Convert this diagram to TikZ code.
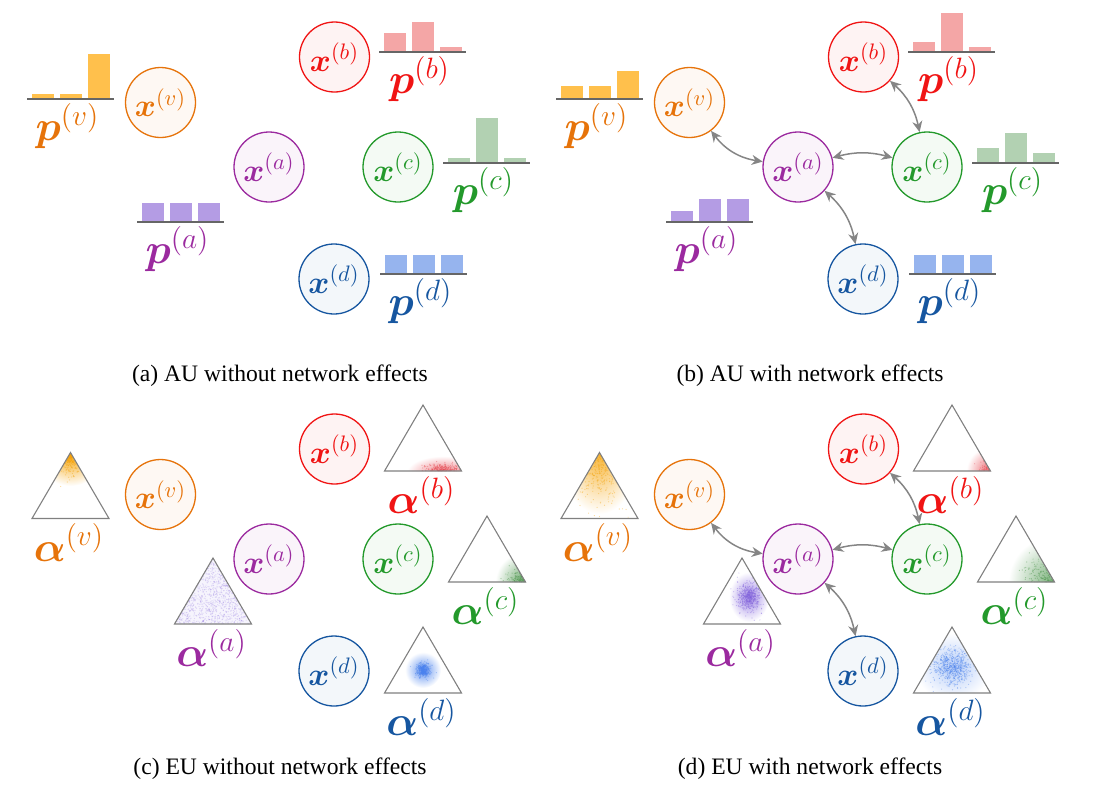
\documentclass[tikz,border=0pt]{standalone}
\usepackage{fix-cm}
\usepackage{amsmath}
\usepackage[no-math]{fontspec}
\setmainfont{Liberation Serif}
\usetikzlibrary{arrows.meta}
\definecolor{cor}{HTML}{E6730A}
\definecolor{cpu}{HTML}{9B2A9F}
\definecolor{cre}{HTML}{F01414}
\definecolor{cgr}{HTML}{23992B}
\definecolor{cbl}{HTML}{1656A0}
\definecolor{bor}{HTML}{FFC04C}
\definecolor{bpu}{HTML}{B49CE4}
\definecolor{bre}{HTML}{F4A6A6}
\definecolor{bgr}{HTML}{B2D1B2}
\definecolor{bbl}{HTML}{96B4EE}
\definecolor{sor}{HTML}{F5A000}
\definecolor{spu}{HTML}{8060DD}
\definecolor{sre}{HTML}{E63C46}
\definecolor{sgr}{HTML}{3C8C3C}
\definecolor{sbl}{HTML}{4A82EE}
\definecolor{agray}{HTML}{858585}
\tikzset{
 unode/.style={circle, draw=#1, fill=#1!5, text=#1, minimum size=35pt, inner sep=0pt, line width=0.65pt, font=\fontsize{16}{18}\selectfont},
 plab/.style={text=#1, anchor=north, inner sep=0pt, font=\fontsize{21}{24}\selectfont},
 histaxis/.style={draw=black!60, line width=0.55pt},
 simplexline/.style={draw=black!50, line width=0.55pt},
 sdot/.style={fill=#1, fill opacity=0.4},
 udot/.style={fill=#1, fill opacity=0.22},
 netarrow/.style={draw=agray, line width=0.75pt, {Stealth[length=5.5pt,width=5pt]}-{Stealth[length=5.5pt,width=5pt]}},
 capt/.style={font=\fontsize{11.8}{14}\selectfont, inner sep=0pt}
}
\newcommand\hist[6]{%
  \fill[#6] (#1+5,#2) rectangle (#1+27,#2-#3);
  \fill[#6] (#1+33,#2) rectangle (#1+55,#2-#4);
  \fill[#6] (#1+61,#2) rectangle (#1+83,#2-#5);
  \draw[histaxis] (#1,#2) -- (#1+87,#2);}
\newcommand\gscat[6]{%
  \foreach \i in {1,...,#5}{%
    \pgfmathsetmacro\rsU{max(rnd,0.0005)}%
    \pgfmathsetmacro\rsV{360*rnd}%
    \pgfmathsetmacro\rsR{sqrt(-2*ln(\rsU))}%
    \pgfmathsetmacro\rsX{#1+#3*\rsR*cos(\rsV)}%
    \pgfmathsetmacro\rsY{#2+#4*\rsR*sin(\rsV)}%
    \fill[#6] (\rsX,\rsY) circle[radius=0.6];
  }}
\newcommand\uscat[4]{%
  \foreach \i in {1,...,#3}{%
    \pgfmathsetmacro\rsA{rnd}\pgfmathsetmacro\rsB{rnd}%
    \pgfmathsetmacro\rsC{(\rsA+\rsB>1)?1-\rsA:\rsA}%
    \pgfmathsetmacro\rsD{(\rsA+\rsB>1)?1-\rsB:\rsB}%
    \pgfmathsetmacro\rsX{#1+38.5*(\rsD-\rsC)}%
    \pgfmathsetmacro\rsY{#2+66*(\rsC+\rsD)}%
    \fill[#4] (\rsX,\rsY) circle[radius=0.6];
  }}
% simplex: name, apex x, apex y
\newcommand\simplex[3]{%
  \coordinate (#1t) at (#2,#3);
  \coordinate (#1l) at (#2-38.5,#3+66);
  \coordinate (#1r) at (#2+38.5,#3+66);}
\begin{document}
\begin{tikzpicture}[x=0.5pt,y=-0.5pt]
\pgfmathsetseed{4242}
\useasboundingbox (0,0) rectangle (1102,788);

% ================= (a) =================
\hist{27}{99}{5}{5}{45}{bor}
\hist{137}{222}{19}{19}{19}{bpu}
\hist{379}{52}{19}{30}{5}{bre}
\hist{443}{163}{5}{45}{5}{bgr}
\hist{380}{274}{19}{19}{19}{bbl}
\node[plab=cor] (apv) at (67.5,103) {$\boldsymbol{p}^{(v)}$};
\node[plab=cpu] (apa) at (177.5,226) {$\boldsymbol{p}^{(a)}$};
\node[plab=cre] (apb) at (419.5,56) {$\boldsymbol{p}^{(b)}$};
\node[plab=cgr] (apc) at (483.5,167) {$\boldsymbol{p}^{(c)}$};
\node[plab=cbl] (apd) at (420.5,278) {$\boldsymbol{p}^{(d)}$};
\node[unode=cor] (av) at (160.5,102.5) {$\boldsymbol{x}^{(v)}$};
\node[unode=cpu] (aa) at (269,167) {$\boldsymbol{x}^{(a)}$};
\node[unode=cre] (ab) at (334.5,57) {$\boldsymbol{x}^{(b)}$};
\node[unode=cgr] (ac) at (398,167) {$\boldsymbol{x}^{(c)}$};
\node[unode=cbl] (ad) at (334,279) {$\boldsymbol{x}^{(d)}$};
\node[capt] (capa) at (280,376) {(a) AU without network effects};

% ================= (b) =================
\hist{556}{99}{13}{13}{28}{bor}
\hist{666}{222}{11}{23}{23}{bpu}
\hist{908}{52}{10}{39}{5}{bre}
\hist{972}{163}{15}{30}{10}{bgr}
\hist{909}{274}{19}{19}{19}{bbl}
\node[plab=cor] (bpv) at (596.5,103) {$\boldsymbol{p}^{(v)}$};
\node[plab=cpu] (bpa) at (706.5,226) {$\boldsymbol{p}^{(a)}$};
\node[plab=cre] (bpb) at (948.5,56) {$\boldsymbol{p}^{(b)}$};
\node[plab=cgr] (bpc) at (1012.5,167) {$\boldsymbol{p}^{(c)}$};
\node[plab=cbl] (bpd) at (949.5,278) {$\boldsymbol{p}^{(d)}$};
\node[unode=cor] (bv) at (689.5,102.5) {$\boldsymbol{x}^{(v)}$};
\node[unode=cpu] (ba) at (798,167) {$\boldsymbol{x}^{(a)}$};
\node[unode=cre] (bb) at (863.5,57) {$\boldsymbol{x}^{(b)}$};
\node[unode=cgr] (bc) at (927,167) {$\boldsymbol{x}^{(c)}$};
\node[unode=cbl] (bd) at (863,279) {$\boldsymbol{x}^{(d)}$};
\draw[netarrow] (bv) to[bend right=22] (ba);
\draw[netarrow] (ba) to[bend left=15] (bc);
\draw[netarrow] (bb) to[bend left=18] (bc);
\draw[netarrow] (ba) to[bend left=18] (bd);
\node[capt] (capb) at (810,376) {(b) AU with network effects};

% ================= (c) =================
\simplex{cv}{70.5}{452.5}
\simplex{ca}{213}{558}
\simplex{cb}{423}{405}
\simplex{cc}{487}{516}
\simplex{cd}{423}{627}
\begin{scope}\clip (cvt) -- (cvl) -- (cvr) -- cycle;
 \shade[inner color=sor, outer color=white] (70.5,452) circle[radius=34];
 \gscat{70.5}{453}{5}{10}{500}{sdot=sor}\end{scope}
\begin{scope}\clip (cat) -- (cal) -- (car) -- cycle;
 \fill[spu!7] (cat) -- (cal) -- (car) -- cycle;
 \uscat{213}{558}{900}{udot=spu}\end{scope}
\begin{scope}\clip (cbt) -- (cbl) -- (cbr) -- cycle;
 \shade[inner color=sre!65, outer color=white] (443,472) ellipse[x radius=36, y radius=16];
 \gscat{443}{471}{9}{3.5}{400}{sdot=sre}\end{scope}
\begin{scope}\clip (cct) -- (ccl) -- (ccr) -- cycle;
 \shade[inner color=sgr!80, outer color=white] (525.5,582) circle[radius=30];
 \gscat{525.5}{582}{8}{6}{500}{sdot=sgr}\end{scope}
\begin{scope}\clip (cdt) -- (cdl) -- (cdr) -- cycle;
 \shade[inner color=sbl!85, outer color=white] (423,670) circle[radius=18];
 \gscat{423}{670}{3.5}{3.5}{400}{sdot=sbl}\end{scope}
\foreach \s in {cv,ca,cb,cc,cd}{\draw[simplexline] (\s t) -- (\s l) -- (\s r) -- cycle;}
\node[plab=cor] (cav) at (69,523.5) {$\boldsymbol{\alpha}^{(v)}$};
\node[plab=cpu] (caa) at (211.5,629) {$\boldsymbol{\alpha}^{(a)}$};
\node[plab=cre] (cab) at (421.5,476) {$\boldsymbol{\alpha}^{(b)}$};
\node[plab=cgr] (cac) at (485.5,587) {$\boldsymbol{\alpha}^{(c)}$};
\node[plab=cbl] (cad) at (421.5,698) {$\boldsymbol{\alpha}^{(d)}$};
\node[unode=cor] (cxv) at (160.5,494.5) {$\boldsymbol{x}^{(v)}$};
\node[unode=cpu] (cxa) at (269,559) {$\boldsymbol{x}^{(a)}$};
\node[unode=cre] (cxb) at (334.5,449) {$\boldsymbol{x}^{(b)}$};
\node[unode=cgr] (cxc) at (398,559) {$\boldsymbol{x}^{(c)}$};
\node[unode=cbl] (cxd) at (334,671) {$\boldsymbol{x}^{(d)}$};
\node[capt] (capc) at (280,769) {(c) EU without network effects};

% ================= (d) =================
\simplex{dv}{599.5}{452.5}
\simplex{da}{742}{558}
\simplex{db}{952}{405}
\simplex{dc}{1016}{516}
\simplex{dd}{952}{627}
\begin{scope}\clip (dvt) -- (dvl) -- (dvr) -- cycle;
 \shade[inner color=sor!80, outer color=white] (599.5,452) ellipse[x radius=40, y radius=62];
 \gscat{599.5}{453}{12}{24}{800}{sdot=sor}\end{scope}
\begin{scope}\clip (dat) -- (dal) -- (dar) -- cycle;
 \shade[inner color=spu!75, outer color=white] (749,597) ellipse[x radius=20, y radius=25];
 \gscat{749}{597}{5.5}{7}{500}{sdot=spu}\end{scope}
\begin{scope}\clip (dbt) -- (dbl) -- (dbr) -- cycle;
 \shade[inner color=sre!80, outer color=white] (990.5,471) circle[radius=24];
 \gscat{990.5}{471}{6}{6}{300}{sdot=sre}\end{scope}
\begin{scope}\clip (dct) -- (dcl) -- (dcr) -- cycle;
 \shade[inner color=sgr!70, outer color=white] (1054.5,582) circle[radius=46];
 \gscat{1054.5}{582}{14}{12}{650}{sdot=sgr}\end{scope}
\begin{scope}\clip (ddt) -- (ddl) -- (ddr) -- cycle;
 \shade[inner color=sbl!40, outer color=white] (953,667) ellipse[x radius=38, y radius=34];
 \gscat{953}{667}{10}{9}{700}{sdot=sbl}\end{scope}
\foreach \s in {dv,da,db,dc,dd}{\draw[simplexline] (\s t) -- (\s l) -- (\s r) -- cycle;}
\node[plab=cor] (dav) at (598,523.5) {$\boldsymbol{\alpha}^{(v)}$};
\node[plab=cpu] (daa) at (740.5,629) {$\boldsymbol{\alpha}^{(a)}$};
\node[plab=cre] (dab) at (950.5,476) {$\boldsymbol{\alpha}^{(b)}$};
\node[plab=cgr] (dac) at (1014.5,587) {$\boldsymbol{\alpha}^{(c)}$};
\node[plab=cbl] (dad) at (950.5,698) {$\boldsymbol{\alpha}^{(d)}$};
\node[unode=cor] (dxv) at (689.5,494.5) {$\boldsymbol{x}^{(v)}$};
\node[unode=cpu] (dxa) at (798,559) {$\boldsymbol{x}^{(a)}$};
\node[unode=cre] (dxb) at (863.5,449) {$\boldsymbol{x}^{(b)}$};
\node[unode=cgr] (dxc) at (927,559) {$\boldsymbol{x}^{(c)}$};
\node[unode=cbl] (dxd) at (863,671) {$\boldsymbol{x}^{(d)}$};
\draw[netarrow] (dxv) to[bend right=22] (dxa);
\draw[netarrow] (dxa) to[bend left=15] (dxc);
\draw[netarrow] (dxb) to[bend left=18] (dxc);
\draw[netarrow] (dxa) to[bend left=18] (dxd);
\node[capt] (capd) at (810,769) {(d) EU with network effects};
\end{tikzpicture}
\end{document}
